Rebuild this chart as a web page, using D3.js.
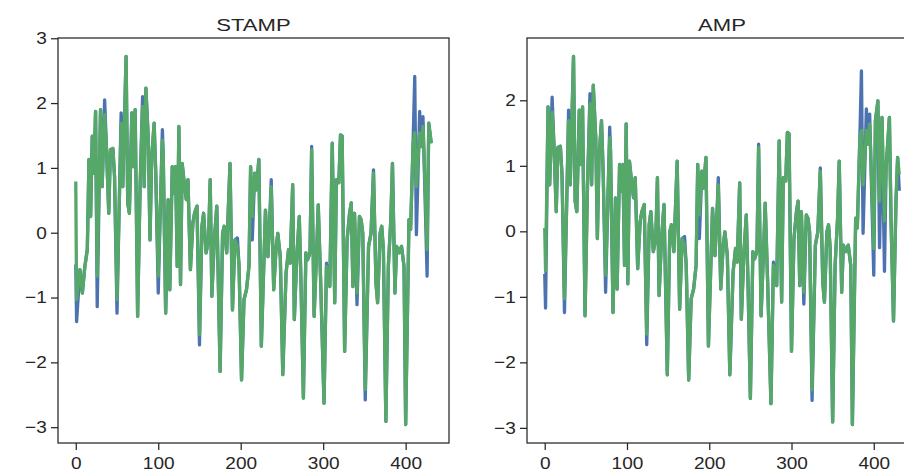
<!DOCTYPE html>
<html>
<head>
<meta charset="utf-8">
<script src="https://cdn.jsdelivr.net/npm/d3@7"></script>
<style>
	body { margin: 0; background: #fff; }
	svg { display: block; font-family: "Liberation Sans", Arial, sans-serif; }
	.axis line { stroke: #262626; stroke-width: 1.25; }
	.axis text { fill: #262626; font-size: 17px; }
</style>
</head>
<body>
<svg id="chart" width="904" height="472"></svg>
<script>
// tick labels
var xTicks = [0, 100, 200, 300, 400];
var stampYTicks = [-3, -2, -1, 0, 1, 2, 3];
var ampYTicks = [-3, -2, -1, 0, 1, 2];

// STAMP panel (sample index, blue series, green series)
var stampIdx = [
	0,1,5,8,11,14,16,18,20,22,
	24,26,30,32,35,37,40,42,45,47,
	50,55,57,61,63,65,68,70,72,75,
	78,81,83,85,88,90,92,95,97,100,
	105,106,109,112,114,117,119,121,123,125,
	127,129,132,134,136,139,142,144,147,150,
	153,155,158,161,163,165,168,171,175,178,
	180,183,187,190,193,196,198,201,204,207,
	210,212,214,217,219,222,225,230,233,235,
	237,240,243,245,248,251,255,258,260,263,
	265,268,271,273,276,279,281,284,286,289,
	292,294,297,301,304,308,311,314,316,319,
	321,323,326,329,332,334,336,338,341,344,
	346,348,351,355,358,361,364,366,369,371,
	373,376,379,382,384,387,389,392,395,398,
	400,404,406,409,411,413,417,419,421,422,
	426,428,431];
var stampBlue = [
	-0.49,-1.37,-0.57,-0.93,-0.52,-0.26,1.13,0.25,1.49,0.92,
	1.87,-1.14,1.90,0.71,2.05,1.38,0.30,1.28,1.30,0.87,
	-1.24,1.85,0.71,2.72,0.46,0.30,1.85,1.02,1.90,-1.29,
	0.71,2.10,0.71,2.23,1.43,-0.11,1.13,1.69,0.92,-0.93,
	1.59,1.23,-1.24,0.51,-0.88,1.02,0.61,1.02,-0.52,1.64,
	-0.80,1.07,0.71,0.51,0.82,-0.57,0.15,0.30,0.41,-1.73,
	0.10,0.30,-0.31,-0.11,0.82,-0.98,-0.11,0.41,-2.14,-0.01,
	0.10,-0.31,1.07,-1.19,-0.11,-0.08,-0.52,-2.27,-1.03,-0.88,
	-0.52,1.02,-0.11,0.92,0.66,1.13,-1.75,0.35,-0.37,0.15,
	0.82,-0.88,-0.21,-0.01,-0.37,-2.19,-0.62,-0.26,-0.47,0.74,
	-1.34,-0.37,0.25,-0.72,-2.55,-0.31,-0.42,-0.31,1.33,-1.29,
	-0.31,0.43,-0.78,-2.63,-0.47,-0.83,1.38,-1.08,0.82,0.77,
	1.51,1.49,-1.83,-0.11,0.30,0.46,-0.83,0.30,-1.11,0.25,
	0.20,-0.01,-2.58,-0.21,-0.01,0.97,-0.78,-1.08,-0.01,0.10,
	-0.26,-2.91,-0.52,0.20,1.07,-0.93,-0.21,-0.31,-0.21,-0.52,
	-2.96,0.20,0.05,1.38,2.41,-0.03,1.87,1.33,1.79,1.30,
	-0.67,1.69,1.38];
var stampGreen = [
	0.79,-1.03,-0.57,-0.93,-0.52,-0.26,1.13,0.25,1.49,0.92,
	1.87,-0.67,1.90,0.71,1.82,1.38,0.30,1.28,1.30,0.87,
	-1.03,1.69,0.71,2.72,0.46,0.30,1.85,1.02,1.90,-1.29,
	0.71,1.95,0.71,2.23,1.43,-0.11,1.13,1.69,0.92,-0.67,
	1.43,1.23,-1.24,0.51,-0.88,1.02,0.61,1.02,-0.52,1.64,
	-0.80,1.07,0.71,0.51,0.82,-0.57,0.15,0.30,0.41,-1.57,
	0.10,0.30,-0.31,-0.11,0.82,-0.98,-0.11,0.41,-2.14,-0.01,
	0.10,-0.31,1.07,-1.19,-0.11,-0.21,-0.52,-2.27,-1.03,-0.88,
	-0.52,1.02,0.25,0.92,0.66,1.13,-1.75,0.35,-0.37,0.15,
	0.71,-0.88,-0.21,-0.01,-0.37,-2.19,-0.62,-0.26,-0.47,0.74,
	-1.34,-0.37,0.25,-0.72,-2.55,-0.31,-0.42,-0.31,1.28,-1.29,
	-0.31,0.43,-0.78,-2.63,-0.52,-0.83,1.38,-1.08,0.82,0.77,
	1.51,1.49,-1.83,-0.11,0.30,0.46,-0.83,0.30,-0.93,0.25,
	0.20,-0.01,-2.42,-0.21,-0.01,0.92,-0.78,-1.08,-0.01,0.10,
	-0.26,-2.91,-0.52,0.20,1.07,-0.93,-0.21,-0.31,-0.21,-0.52,
	-2.96,0.20,0.05,1.38,1.54,0.71,1.54,1.33,1.64,1.30,
	-0.26,1.69,1.38];

// AMP panel
var ampIdx = [
	0,1,
	4,6,9,11,14,16,19,21,
	24,29,31,35,37,39,42,44,46,49,
	52,55,57,59,62,64,66,69,71,74,
	79,80,83,86,88,91,93,95,97,99,
	101,103,106,108,110,113,116,118,121,124,
	127,129,132,135,137,139,142,145,149,152,
	154,157,161,164,167,170,172,175,178,181,
	184,186,188,191,193,196,199,204,207,209,
	211,214,217,219,222,225,229,232,234,237,
	239,242,245,247,250,253,255,258,260,263,
	266,268,271,275,278,282,285,288,290,293,
	295,297,300,303,306,308,310,312,315,318,
	320,322,325,329,332,335,338,340,343,345,
	347,350,353,356,358,361,363,366,369,372,
	374,378,380,383,385,387,391,393,395,396,400,402,
	405,407,410,413,415,419,421,424,427,429,431];
var ampBlue = [
	-0.65,-1.17,
	1.90,0.71,2.05,1.38,0.30,1.28,1.30,0.87,
	-1.24,1.85,0.71,2.67,0.46,0.30,1.85,1.02,1.90,-1.29,
	0.71,2.10,0.71,2.23,1.43,-0.11,1.13,1.69,0.92,-0.93,
	1.59,1.23,-1.24,0.51,-0.88,1.02,0.61,1.02,-0.52,1.64,
	-0.80,1.07,0.71,0.51,0.82,-0.57,0.15,0.30,0.41,-1.73,
	0.10,0.30,-0.31,-0.11,0.82,-0.98,-0.11,0.41,-2.19,-0.01,
	0.10,-0.31,1.07,-1.19,-0.11,-0.08,-0.52,-2.27,-1.03,-0.88,
	-0.52,1.02,-0.11,0.92,0.66,1.13,-1.75,0.35,-0.37,0.15,
	0.82,-0.88,-0.21,-0.01,-0.37,-2.19,-0.62,-0.26,-0.47,0.74,
	-1.34,-0.37,0.25,-0.72,-2.55,-0.31,-0.42,-0.31,1.33,-1.29,
	-0.31,0.43,-0.78,-2.63,-0.47,-0.83,1.38,-1.08,0.82,0.77,
	1.51,1.49,-1.83,-0.11,0.30,0.46,-0.83,0.30,-1.11,0.25,
	0.20,-0.01,-2.58,-0.21,-0.01,0.97,-0.78,-1.08,-0.01,0.10,
	-0.26,-2.91,-0.52,0.20,1.07,-0.93,-0.21,-0.31,-0.21,-0.52,
	-2.95,0.20,0.05,1.38,2.45,-0.03,1.87,1.33,1.79,1.30,-0.67,1.69,
	1.99,-0.25,1.74,-0.61,0.97,1.74,0.16,-1.37,0.46,1.13,0.62];
var ampGreen = [
	0.05,-0.60,
	1.90,0.71,1.82,1.38,0.30,1.28,1.30,0.87,
	-1.03,1.69,0.71,2.67,0.46,0.30,1.85,1.02,1.90,-1.29,
	0.71,1.95,0.71,2.23,1.43,-0.11,1.13,1.69,0.92,-0.67,
	1.43,1.23,-1.24,0.51,-0.88,1.02,0.61,1.02,-0.52,1.64,
	-0.80,1.07,0.71,0.51,0.82,-0.57,0.15,0.30,0.41,-1.57,
	0.10,0.30,-0.31,-0.11,0.82,-0.98,-0.11,0.41,-2.19,-0.01,
	0.10,-0.31,1.07,-1.19,-0.11,-0.21,-0.52,-2.27,-1.03,-0.88,
	-0.52,1.02,0.25,0.92,0.66,1.13,-1.75,0.35,-0.37,0.15,
	0.71,-0.88,-0.21,-0.01,-0.37,-2.19,-0.62,-0.26,-0.47,0.74,
	-1.34,-0.37,0.25,-0.72,-2.55,-0.31,-0.42,-0.31,1.28,-1.29,
	-0.31,0.43,-0.78,-2.63,-0.52,-0.83,1.38,-1.08,0.82,0.77,
	1.51,1.49,-1.83,-0.11,0.30,0.46,-0.83,0.30,-0.93,0.25,
	0.20,-0.01,-2.42,-0.21,-0.01,0.92,-0.78,-1.08,-0.01,0.10,
	-0.26,-2.91,-0.52,0.20,1.07,-0.93,-0.21,-0.31,-0.21,-0.52,
	-2.95,0.20,0.05,1.38,1.54,0.71,1.54,1.33,1.64,1.30,-0.26,1.69,
	1.99,0.46,1.74,0.16,0.97,1.74,0.16,-1.37,0.46,1.13,0.87];

var panels = [
	{title: "STAMP", idx: stampIdx, blue: stampBlue, green: stampGreen, yTicks: stampYTicks, left: 58, right: 449},
	{title: "AMP", idx: ampIdx, blue: ampBlue, green: ampGreen, yTicks: ampYTicks, left: 527, right: 917}
];

var svg = d3.select("#chart"),
    plotTop = 38,
    plotBottom = 443,
    ink = "#262626";

// matplotlib style minus sign
var fmt = function(d) { return d < 0 ? "\u2212" + Math.abs(d) : "" + d; };

// pad a domain by 5% each side like matplotlib autoscale
function padded(ext) {
	var m = (ext[1] - ext[0]) * 0.05;
	return [ext[0] - m, ext[1] + m];
}

panels.forEach(function(p, k) {
	var x = d3.scaleLinear().domain(padded(d3.extent(p.idx))).range([p.left, p.right]);
	var y = d3.scaleLinear().domain(padded(d3.extent(p.blue.concat(p.green)))).range([plotBottom, plotTop]);

	var g = svg.append("g");

	g.append("clipPath").attr("id", "clip" + k)
	  .append("rect")
	    .attr("x", p.left).attr("y", plotTop)
	    .attr("width", p.right - p.left).attr("height", plotBottom - plotTop);

	var line = d3.line()
	    .x(function(d, i) { return x(p.idx[i]); })
	    .y(function(d) { return y(d); });

	[["blue", "#4c72b0"], ["green", "#55a868"]].forEach(function(s) {
		g.append("path")
		    .datum(p[s[0]])
		    .attr("clip-path", "url(#clip" + k + ")")
		    .attr("fill", "none")
		    .attr("stroke", s[1])
		    .attr("stroke-width", 3.3)
		    .attr("stroke-linejoin", "round")
		    .attr("d", line);
	});

	// frame
	g.append("rect")
	    .attr("x", p.left).attr("y", plotTop)
	    .attr("width", p.right - p.left).attr("height", plotBottom - plotTop)
	    .attr("fill", "none")
	    .attr("stroke", ink)
	    .attr("stroke-width", 1.25);

	g.append("g")
	    .attr("class", "axis")
	    .attr("transform", "translate(0," + plotBottom + ")")
	    .call(d3.axisBottom(x).tickValues(xTicks).tickSize(7).tickPadding(7).tickFormat(fmt))
	    .call(function(a) { a.select(".domain").remove(); })
	    .selectAll("text")
	      .attr("transform", "scale(1.12,1)");

	g.append("g")
	    .attr("class", "axis")
	    .attr("transform", "translate(" + p.left + ",0)")
	    .call(d3.axisLeft(y).tickValues(p.yTicks).tickSize(7).tickPadding(3).tickFormat(fmt))
	    .call(function(a) { a.select(".domain").remove(); })
	    .selectAll("text")
	      .attr("transform", "scale(1.12,1)");

	g.append("text")
	    .attr("transform", "translate(" + ((p.left + p.right) / 2) + ",31) scale(1.3,1)")
	    .attr("text-anchor", "middle")
	    .style("font-size", "17px")
	    .style("fill", ink)
	    .text(p.title);
});
</script>
</body>
</html>
